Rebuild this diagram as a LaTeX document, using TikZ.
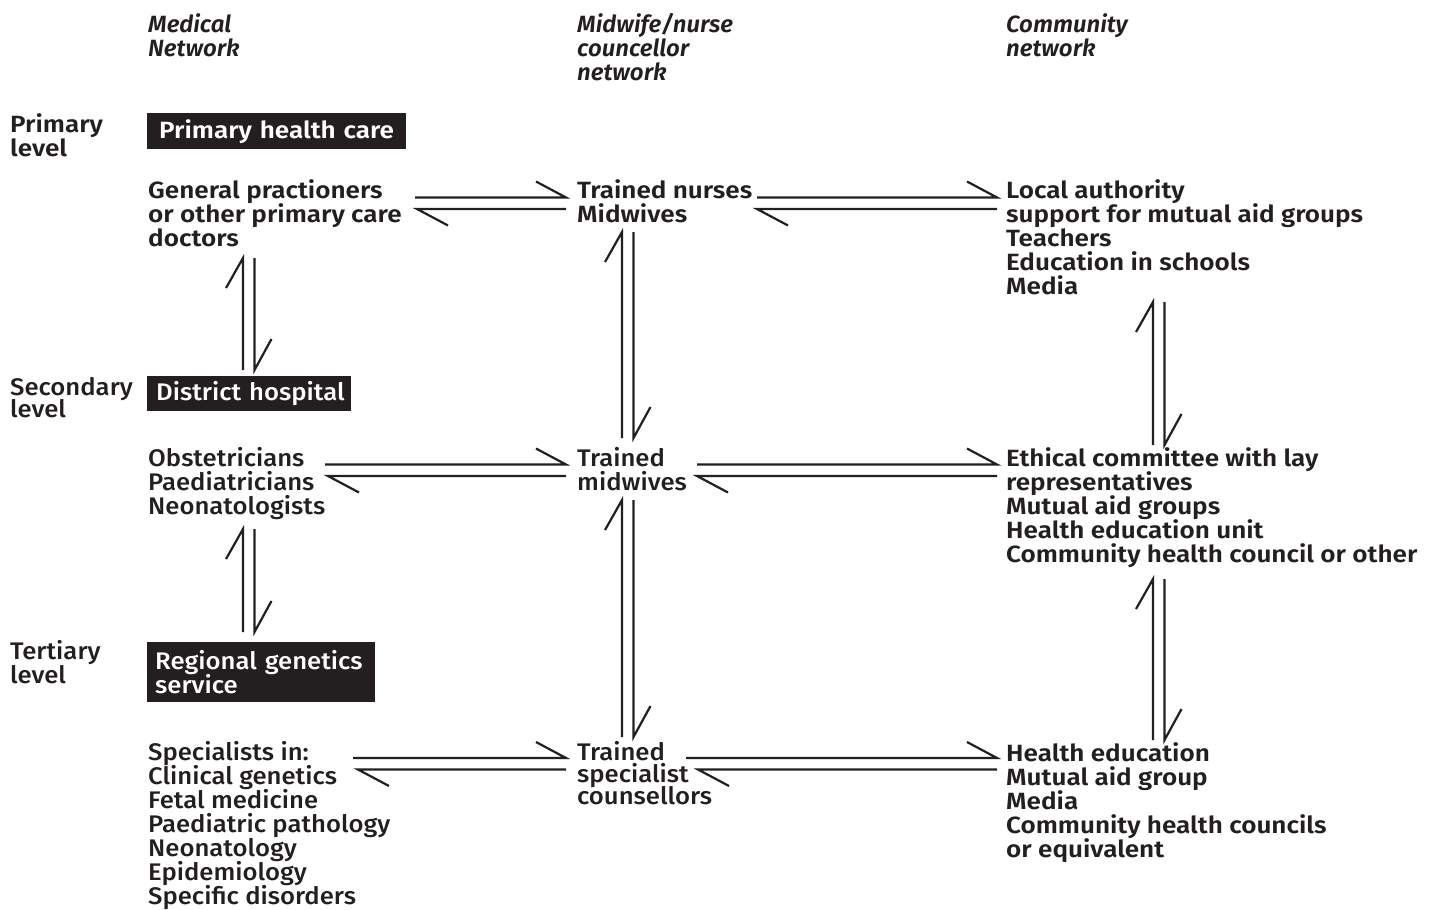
\documentclass[tikz,border=0pt]{standalone}
\usepackage{fontspec}
\newfontfamily\wf{Fira Sans SemiBold}[FakeStretch=1.11]
\newfontfamily\cf{Fira Sans Medium}[FakeStretch=1.07]
\newfontfamily\hf{Fira Sans SemiBold Italic}[FakeStretch=1.02]
\definecolor{ink}{HTML}{231F20}
\newcommand\fsz[2]{\fontsize{#1}{#2}\selectfont\lineskiplimit=-100bp\lineskip=0bp\relax}
\tikzset{
  wtxt/.style={anchor=base west, inner sep=0pt, align=left, text=ink,
    font=\wf\fsz{23.5bp}{24bp}},
  ctxt/.style={anchor=base west, inner sep=0pt, align=left, text=ink,
    font=\cf\fsz{24bp}{24bp}},
  htxt/.style={anchor=base west, inner sep=0pt, align=left, text=ink,
    font=\hf\fsz{23.5bp}{24bp}},
  blk/.style={anchor=north west, fill=ink, text=white, inner sep=0pt, align=left},
  conn/.style={draw=ink, line width=2.2bp, line join=miter},
}
% #1 left end, #2 right end, #3 extra inset of the lower (leftward) tip
\newcommand\harpH[3]{%
  \draw[conn] (#1) -- (#2) -- ++(-30,-16);
  \draw[conn] ([yshift=-11.5bp]#2) -- ([shift={(#3bp,-11.5bp)}]#1) -- ++(31,16.5);}
\newcommand\harpV[2]{%
  \draw[conn] (#2) -- (#1) -- ++(-17,30);
  \draw[conn] ([xshift=11.5bp]#1) -- ([xshift=11.5bp]#2) -- ++(17,-31);}
\begin{document}
\begin{tikzpicture}[x=1bp,y=-1bp]
\useasboundingbox[fill=white] (0,0) rectangle (1440,909);

% column headers (anchored at the baseline of the last line)
\node[htxt] (hmed) at (148,56) {Medical\\Network};
\node[htxt] (hmid) at (577,80) {Midwife/nurse\\councellor\\network};
\node[htxt] (hcom) at (1006,56) {Community\\network};

% level labels
\node[wtxt] (lprim) at (10,156) {Primary\\level};
\node[ctxt, font=\cf\fsz{24bp}{22bp}] (lsec) at (10,417) {Secondary\\level};
\node[ctxt] (lter) at (10,683) {Tertiary\\level};

% black boxes
\node[blk, minimum width=259bp, minimum height=36bp, text width=235bp,
      font=\wf\fsz{23.5bp}{24bp}] (phc) at (147,113) {\mbox{Primary health care}};
\node[blk, minimum width=204bp, minimum height=35bp, text width=186bp,
      font=\cf\fsz{24bp}{24bp}] (dh) at (147,376) {\mbox{District hospital}};
\node[blk, minimum width=228bp, minimum height=60bp, text width=212bp,
      font=\cf\fsz{24bp}{24bp}] (rgs) at (147,642) {\mbox{Regional genetics}\\service};

% primary level
\node[wtxt] (gp) at (148,246) {General practioners\\or other primary care\\doctors};
\node[wtxt] (nurse) at (577,222) {Trained nurses\\Midwives};
\node[wtxt] (local) at (1006,294) {Local authority\\support for mutual aid groups\\Teachers\\Education in schools\\Media};

% secondary level
\node[ctxt] (obst) at (148,514) {Obstetricians\\Paediatricians\\Neonatologists};
\node[ctxt] (tmid) at (577,490) {Trained\\midwives};
\node[wtxt] (eth) at (1006,562) {Ethical committee with lay\\representatives\\Mutual aid groups\\Health education unit\\Community health council or other};

% tertiary level
\node[ctxt] (spec) at (148,904) {Specialists in:\\Clinical genetics\\Fetal medicine\\Paediatric pathology\\Neonatology\\Epidemiology\\Specific disorders};
\node[ctxt, font=\cf\fsz{24bp}{22bp}] (tsc) at (577,804) {Trained\\specialist\\counsellors};
\node[wtxt] (hed) at (1006,857) {Health education\\Mutual aid group\\Media\\Community health councils\\or equivalent};

% connector end points
\coordinate (a1) at (415,197.5);  \coordinate (a2) at (566,197.5);
\coordinate (b1) at (757,197.5);  \coordinate (b2) at (997,197.5);
\coordinate (c1) at (325,464.5);  \coordinate (c2) at (566,464.5);
\coordinate (d1) at (697,464.5);  \coordinate (d2) at (997,464.5);
\coordinate (e1) at (353,758);    \coordinate (e2) at (566,758);
\coordinate (f1) at (686,758);    \coordinate (f2) at (997,758);
\coordinate (g1) at (243,258);    \coordinate (g2) at (243,370);
\coordinate (h1) at (243,529);    \coordinate (h2) at (243,632);
\coordinate (i1) at (622,232);    \coordinate (i2) at (622,438);
\coordinate (j1) at (622,500);    \coordinate (j2) at (622,737);
\coordinate (k1) at (1153,302);   \coordinate (k2) at (1153,445);
\coordinate (l1) at (1153,579);   \coordinate (l2) at (1153,740);

\harpH{a1}{a2}{2}
\harpH{b1}{b2}{0}
\harpH{c1}{c2}{3}
\harpH{d1}{d2}{0}
\harpH{e1}{e2}{5}
\harpH{f1}{f2}{12}
\harpV{g1}{g2}
\harpV{h1}{h2}
\harpV{i1}{i2}
\harpV{j1}{j2}
\harpV{k1}{k2}
\harpV{l1}{l2}
\end{tikzpicture}
\end{document}
